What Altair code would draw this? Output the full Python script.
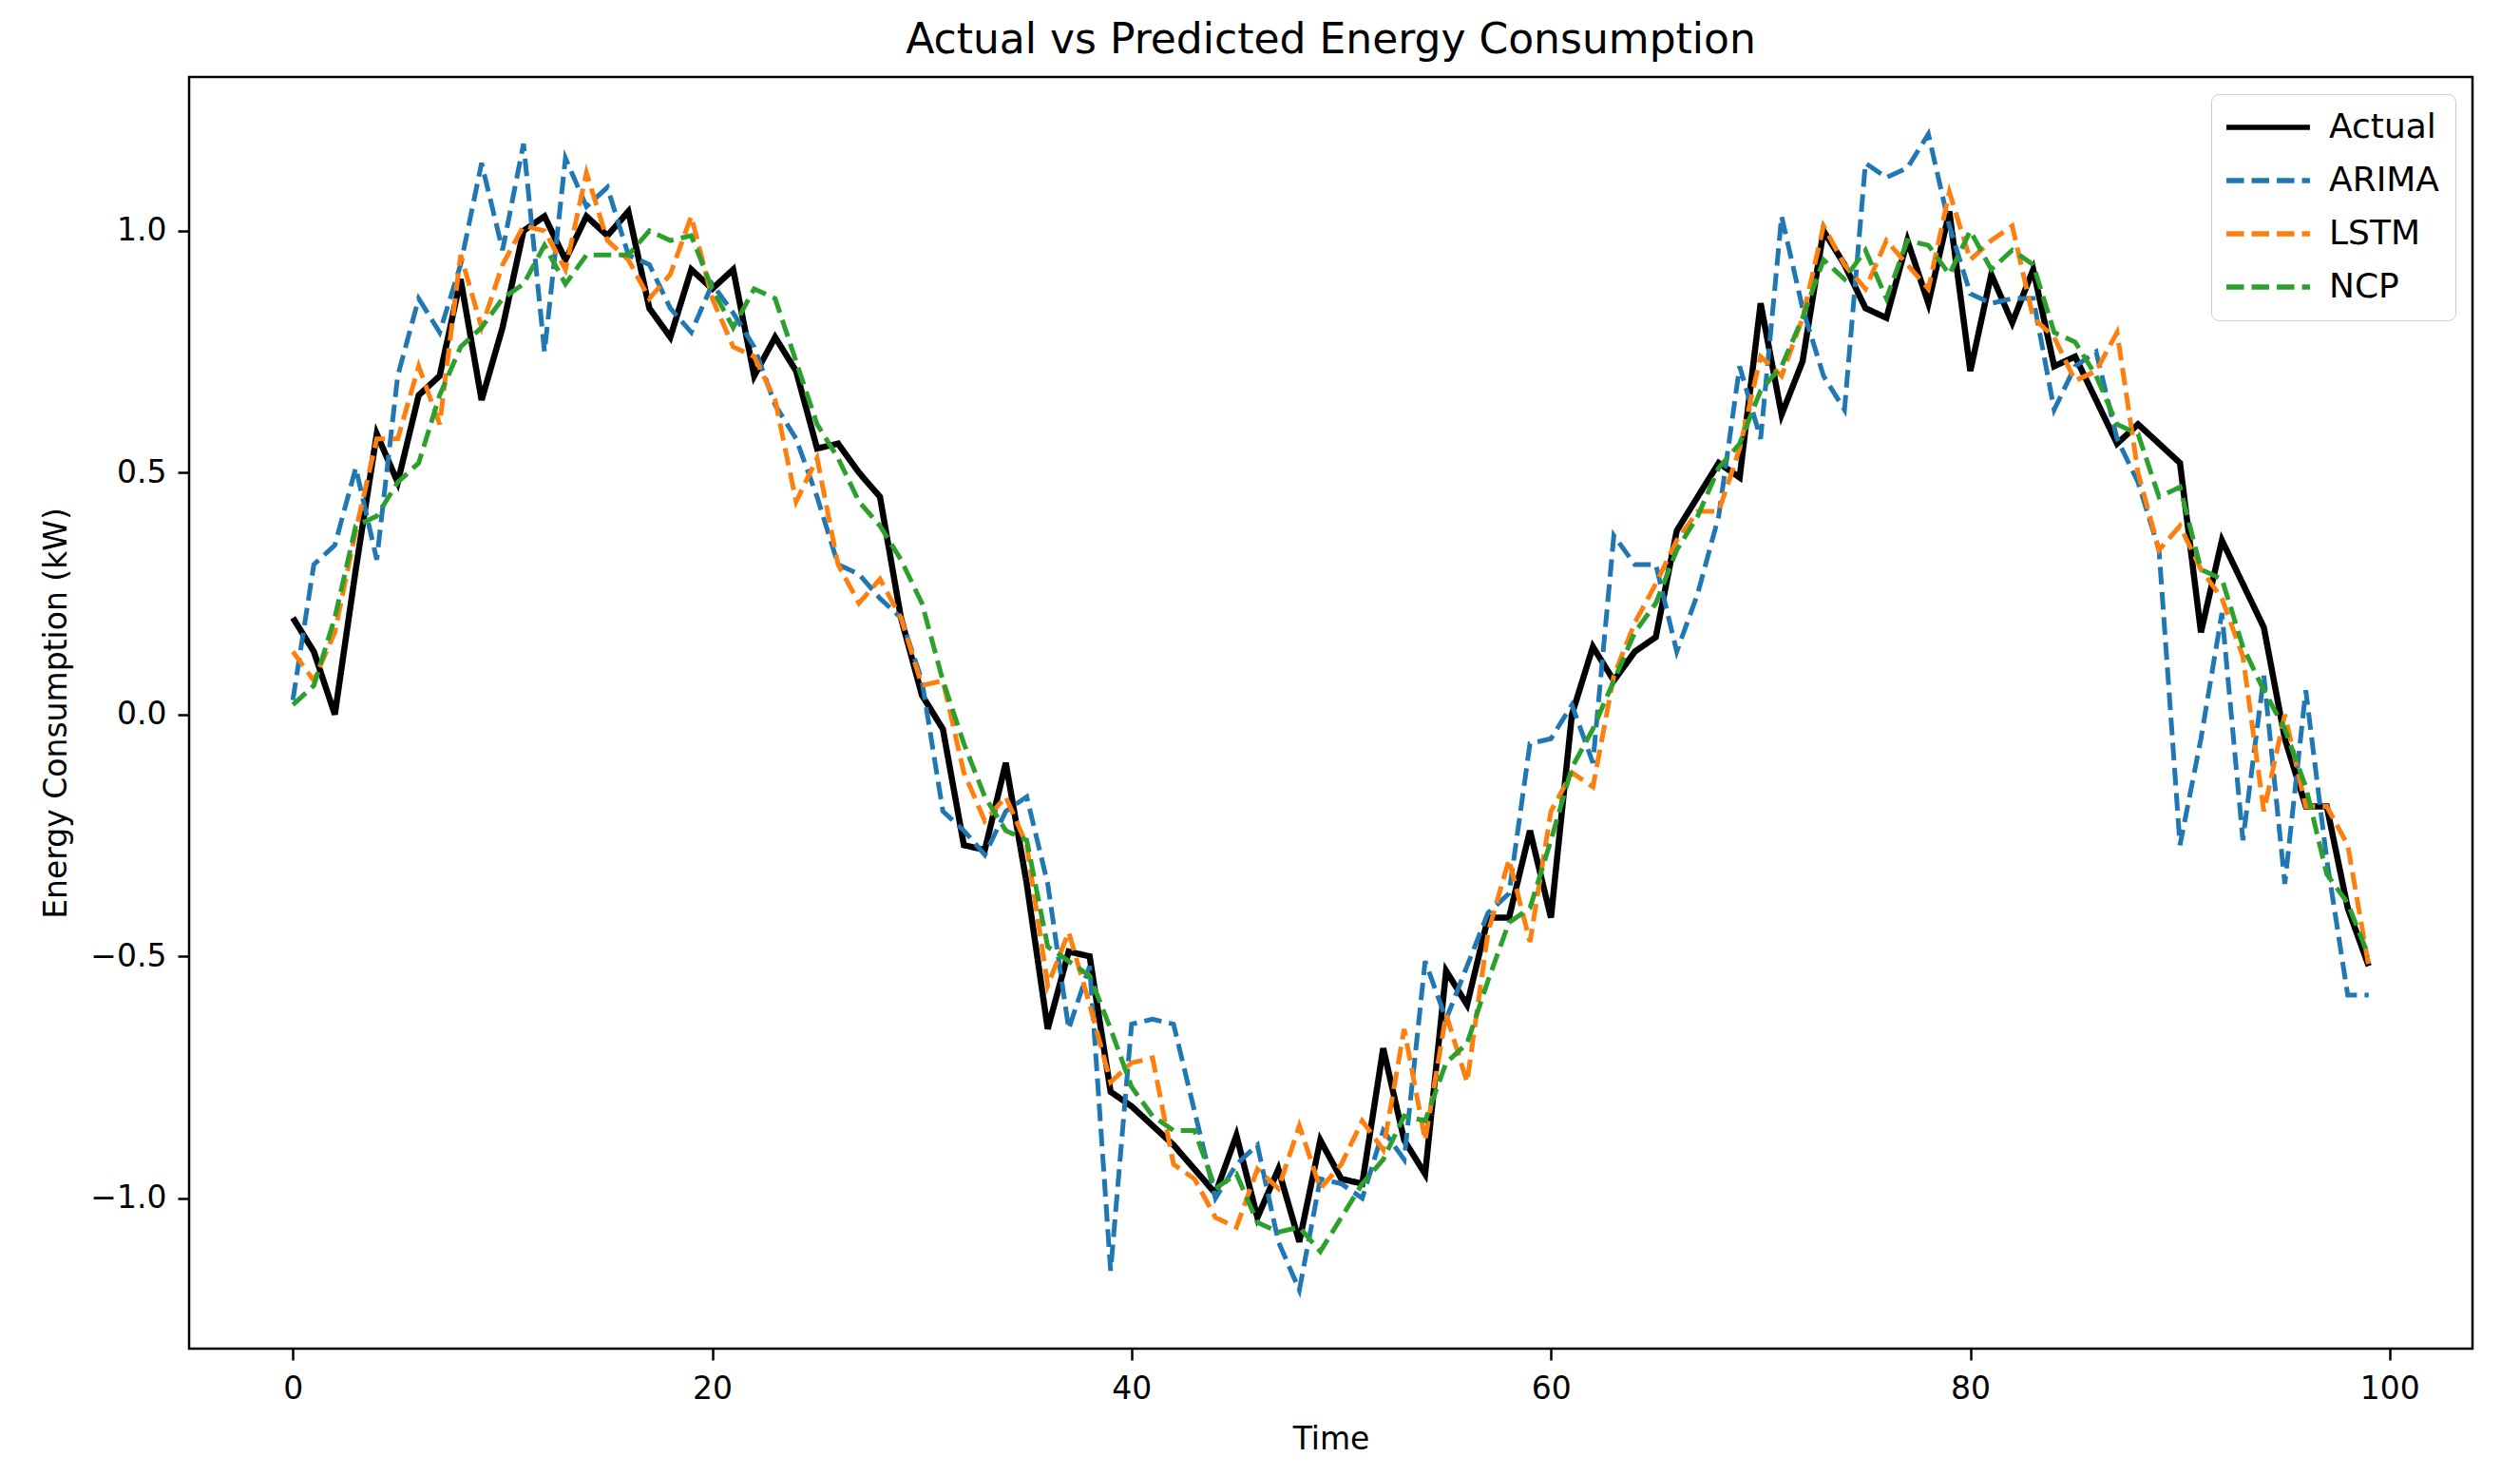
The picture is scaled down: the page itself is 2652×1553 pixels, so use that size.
import altair as alt
import pandas as pd

time = list(range(100))

actual = [0.20, 0.13, 0.00, 0.30, 0.58, 0.48, 0.66, 0.70, 0.90, 0.65,
          0.80, 1.00, 1.03, 0.94, 1.03, 0.99, 1.04, 0.84, 0.78, 0.92,
          0.88, 0.92, 0.70, 0.78, 0.71, 0.55, 0.56, 0.50, 0.45, 0.20,
          0.04, -0.03, -0.27, -0.28, -0.10, -0.35, -0.65, -0.49, -0.50, -0.78,
          -0.81, -0.85, -0.89, -0.94, -0.99, -0.87, -1.04, -0.94, -1.09, -0.88,
          -0.96, -0.97, -0.69, -0.88, -0.95, -0.53, -0.60, -0.42, -0.42, -0.24,
          -0.42, 0.00, 0.14, 0.07, 0.13, 0.16, 0.38, 0.45, 0.52, 0.49,
          0.85, 0.62, 0.73, 1.00, 0.93, 0.84, 0.82, 0.98, 0.85, 1.04,
          0.71, 0.91, 0.81, 0.92, 0.72, 0.74, 0.65, 0.56, 0.60, 0.56,
          0.52, 0.17, 0.36, 0.27, 0.18, -0.05, -0.19, -0.19, -0.40, -0.52]

arima = [0.03, 0.31, 0.35, 0.51, 0.32, 0.70, 0.86, 0.79, 0.93, 1.14,
         0.96, 1.18, 0.75, 1.15, 1.05, 1.09, 0.95, 0.93, 0.84, 0.79,
         0.89, 0.83, 0.76, 0.64, 0.57, 0.45, 0.31, 0.29, 0.24, 0.20,
         0.07, -0.20, -0.24, -0.29, -0.20, -0.17, -0.35, -0.65, -0.52, -1.15,
         -0.64, -0.63, -0.64, -0.82, -1.00, -0.93, -0.89, -1.09, -1.19, -0.96,
         -0.97, -1.00, -0.86, -0.92, -0.51, -0.63, -0.52, -0.41, -0.37, -0.06,
         -0.05, 0.02, -0.10, 0.37, 0.31, 0.31, 0.13, 0.25, 0.41, 0.72,
         0.57, 1.03, 0.84, 0.70, 0.63, 1.14, 1.11, 1.13, 1.20, 1.01,
         0.87, 0.85, 0.86, 0.86, 0.63, 0.72, 0.75, 0.57, 0.48, 0.34,
         -0.27, -0.05, 0.21, -0.26, 0.08, -0.35, 0.05, -0.30, -0.58, -0.58]

lstm = [0.13, 0.07, 0.17, 0.38, 0.57, 0.57, 0.72, 0.60, 0.95, 0.80,
        0.93, 1.01, 1.00, 0.92, 1.12, 0.98, 0.94, 0.86, 0.91, 1.03,
        0.86, 0.76, 0.74, 0.65, 0.44, 0.53, 0.31, 0.23, 0.28, 0.20,
        0.06, 0.07, -0.12, -0.22, -0.17, -0.27, -0.56, -0.45, -0.60, -0.76,
        -0.72, -0.71, -0.93, -0.96, -1.04, -1.06, -0.94, -0.98, -0.85, -0.98,
        -0.93, -0.84, -0.90, -0.65, -0.88, -0.62, -0.76, -0.45, -0.30, -0.47,
        -0.20, -0.12, -0.15, 0.08, 0.19, 0.27, 0.36, 0.42, 0.42, 0.55,
        0.74, 0.70, 0.82, 1.01, 0.93, 0.88, 0.98, 0.93, 0.88, 1.08,
        0.94, 0.98, 1.01, 0.82, 0.78, 0.69, 0.71, 0.79, 0.50, 0.34,
        0.39, 0.30, 0.24, 0.12, -0.20, 0.00, -0.19, -0.19, -0.27, -0.52]

ncp = [0.02, 0.06, 0.20, 0.39, 0.41, 0.48, 0.52, 0.66, 0.76, 0.80,
       0.86, 0.89, 0.97, 0.89, 0.95, 0.95, 0.95, 1.00, 0.98, 0.99,
       0.88, 0.80, 0.88, 0.86, 0.73, 0.60, 0.53, 0.44, 0.39, 0.32,
       0.23, 0.07, -0.06, -0.17, -0.24, -0.26, -0.48, -0.51, -0.54, -0.65,
       -0.77, -0.83, -0.86, -0.86, -0.98, -0.95, -1.05, -1.07, -1.06, -1.11,
       -1.04, -0.97, -0.92, -0.83, -0.84, -0.72, -0.68, -0.55, -0.43, -0.40,
       -0.26, -0.11, -0.03, 0.07, 0.17, 0.23, 0.34, 0.41, 0.51, 0.56,
       0.67, 0.72, 0.82, 0.94, 0.90, 0.96, 0.86, 0.98, 0.97, 0.91,
       1.00, 0.92, 0.96, 0.93, 0.79, 0.77, 0.70, 0.60, 0.58, 0.45,
       0.47, 0.30, 0.28, 0.14, 0.05, -0.03, -0.15, -0.33, -0.39, -0.50]

series_names = ["Actual", "ARIMA", "LSTM", "NCP"]
series_colors = ["#000000", "#1f77b4", "#ff7f0e", "#2ca02c"]
series_dash = [[1, 0], [18.5, 8], [18.5, 8], [18.5, 8]]
series_width = [6.5, 5, 5, 5]
x_ticks = [0, 20, 40, 60, 80, 100]
y_ticks = [-1.0, -0.5, 0.0, 0.5, 1.0]

rows = []
for name, vals in zip(series_names, [actual, arima, lstm, ncp]):
    for t, v in zip(time, vals):
        rows.append({"Time": t, "Value": v, "Series": name})
df = pd.DataFrame(rows)

FONT = "DejaVu Sans"

base = alt.Chart(df).encode(
    x=alt.X("Time:Q",
            scale=alt.Scale(domain=[-4.95, 103.95], nice=False, zero=False),
            axis=alt.Axis(values=x_ticks, format="d", title="Time")),
    y=alt.Y("Value:Q",
            scale=alt.Scale(domain=[-1.311, 1.318], nice=False, zero=False),
            axis=alt.Axis(values=y_ticks,
                          labelExpr="replace(format(datum.value, '.1f'), '-', '\u2212')",
                          title="Energy Consumption (kW)")),
    color=alt.Color("Series:N",
                    scale=alt.Scale(domain=series_names, range=series_colors),
                    legend=alt.Legend(title=None)),
    strokeDash=alt.StrokeDash("Series:N",
                              scale=alt.Scale(domain=series_names, range=series_dash),
                              legend=alt.Legend(title=None)),
)

layers = []
for name, w in zip(series_names, series_width):
    layers.append(
        base.transform_filter(alt.datum.Series == name).mark_line(strokeWidth=w)
    )

chart = alt.layer(*layers).properties(
    width=2403,
    height=1338,
    autosize=alt.AutoSizeParams(type="none"),
    padding={"left": 191, "top": 73, "right": 42, "bottom": 118},
    title=alt.TitleParams(
        text="Actual vs Predicted Energy Consumption",
        font=FONT, fontSize=44, fontWeight="normal", color="black",
        anchor="middle", offset=16,
    ),
).configure_view(
    stroke="black", strokeWidth=2.5, fill="white"
).configure_axis(
    grid=False, domain=False,
    labelFont=FONT, labelFontSize=33, labelColor="black",
    titleFont=FONT, titleFontSize=33, titleColor="black", titleFontWeight="normal",
    tickColor="black", tickWidth=2.5, tickSize=12,
).configure_axisX(
    titlePadding=20, labelPadding=14,
).configure_axisY(
    titlePadding=18, labelPadding=12,
).configure_legend(
    orient="top-right", offset=18,
    labelFont=FONT, labelFontSize=36, labelColor="black",
    symbolType="M-2.93,0L2.93,0", symbolSize=900, symbolStrokeWidth=5.5,
    symbolOffset=25, labelOffset=46, padding=17, rowPadding=20,
    strokeColor="#cccccc", fillColor="white", cornerRadius=8,
)

chart.save("out.html", embed_options={"renderer": "svg", "actions": False})
